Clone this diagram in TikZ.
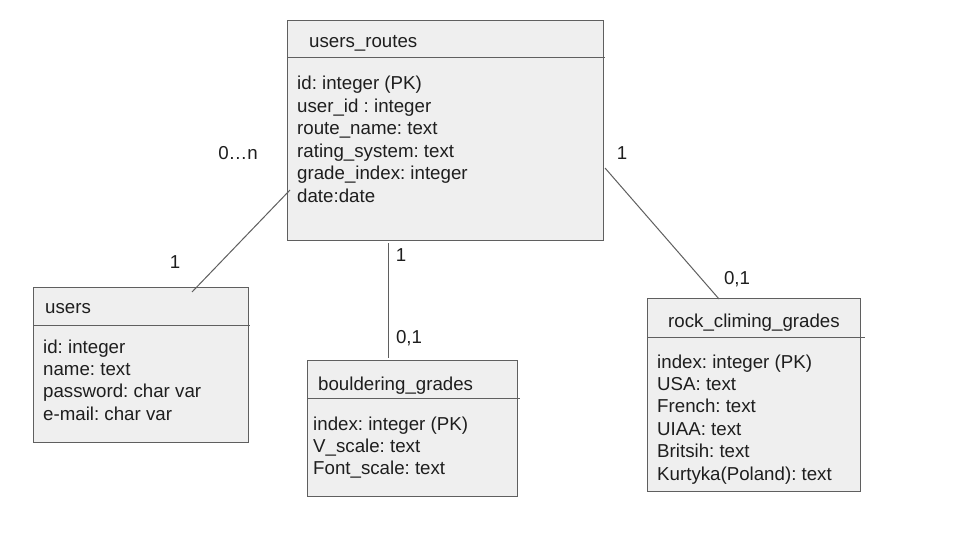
\documentclass[tikz,border=0pt]{standalone}
\usepackage{fontspec}
\setmainfont{Liberation Sans}
\frenchspacing
\definecolor{boxfill}{HTML}{EFEFEF}
\definecolor{boxline}{HTML}{5F5F5F}
\definecolor{txt}{HTML}{1E1E1E}
\begin{document}
\begin{tikzpicture}[x=1pt,y=-1pt,
  tbl/.style={draw=boxline, fill=boxfill, line width=1pt, rectangle, inner sep=0pt, anchor=north west},
  field/.style={inner sep=0pt, anchor=base west, text=txt, font=\fontsize{18.7}{22.4}\selectfont},
  card/.style={inner sep=0pt, anchor=center, text=txt, font=\fontsize{18.7}{22.4}\selectfont},
  divider/.style={draw=boxline, line width=1pt},
  link/.style={draw=boxline, line width=1pt}]
\useasboundingbox[fill=white] (0,0) rectangle (960,540);

% users_routes
\node[tbl, minimum width=316pt, minimum height=220pt] (ur) at (287,20) {};
\draw[divider] (287,58) -- (605,58);
\node[field] (urt) at (309,48) {users\_routes};
\foreach \t [count=\i from 0] in {id: integer (PK), user\_id : integer, route\_name: text, rating\_system: text, grade\_index: integer, date:date}
  \node[field] (urf\i) at (297,{90+22.4*\i}) {\t};

% users
\node[tbl, minimum width=215pt, minimum height=155pt] (us) at (33,287) {};
\draw[divider] (33,325) -- (250,325);
\node[field] (ust) at (45,313) {users};
\foreach \t [count=\i from 0] in {id: integer, name: text, password: char var, e-mail: char var}
  \node[field] (usf\i) at (43,{353+22.4*\i}) {\t};

% bouldering_grades
\node[tbl, minimum width=210pt, minimum height=136pt] (bg) at (307,360) {};
\draw[divider] (307,398) -- (520,398);
\node[field] (bgt) at (318,390) {bouldering\_grades};
\foreach \t [count=\i from 0] in {index: integer (PK), V\_scale: text, Font\_scale: text}
  \node[field] (bgf\i) at (313,{430+22.4*\i}) {\t};

% rock_climing_grades
\node[tbl, minimum width=213pt, minimum height=193pt] (rc) at (647,298) {};
\draw[divider] (647,337) -- (865,337);
\node[field] (rct) at (668,327) {rock\_climing\_grades};
\foreach \t [count=\i from 0] in {index: integer (PK), USA: text, French: text, UIAA: text, Britsih: text, Kurtyka(Poland): text}
  \node[field] (rcf\i) at (657,{368+22.4*\i}) {\t};

% connectors
\coordinate (c1a) at (290,190);
\coordinate (c1b) at (192,292);
\coordinate (c2a) at (388,243);
\coordinate (c2b) at (388,358);
\coordinate (c3a) at (605,168);
\coordinate (c3b) at (719,299);
\draw[link] (c1a) -- (c1b);
\draw[link] (c2a) -- (c2b);
\draw[link] (c3a) -- (c3b);

% cardinalities
\node[card] (l1) at (238,153) {0…n};
\node[card] (l2) at (175,262) {1};
\node[card] (l3) at (401,255) {1};
\node[card] (l4) at (409,338) {0,1};
\node[card] (l5) at (622,153) {1};
\node[card] (l6) at (737,279) {0,1};
\end{tikzpicture}
\end{document}
